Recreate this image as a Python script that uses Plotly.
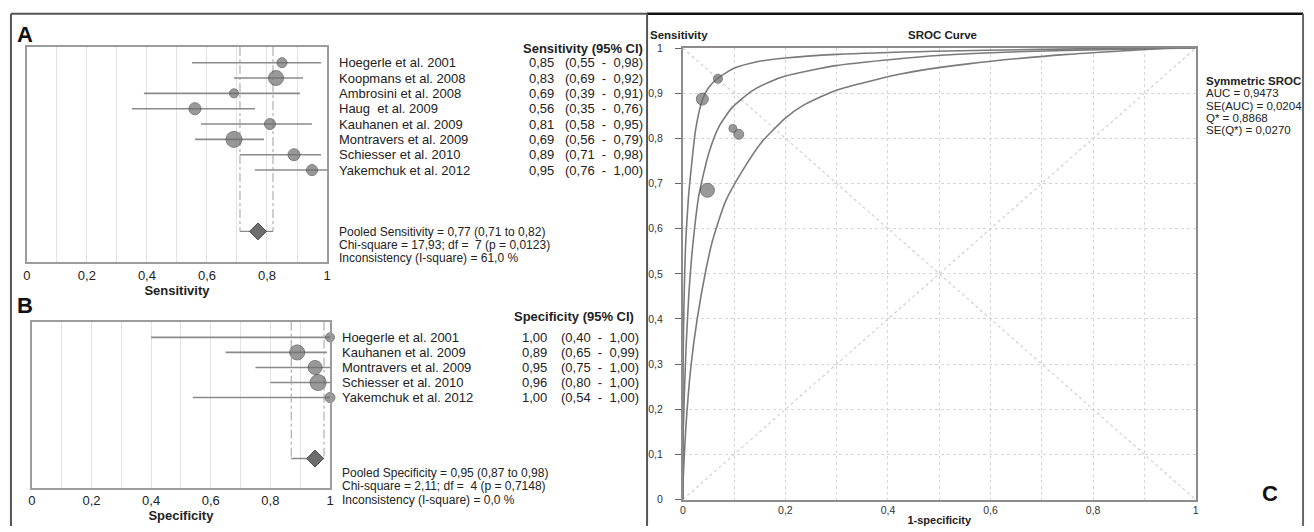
import plotly.graph_objects as go

W, H = 1314, 532
FONT = "Liberation Sans, Arial, sans-serif"
TXT = "#222222"

# ---------------- Panel A : sensitivity forest ----------------
sens_studies = ["Hoegerle et al. 2001", "Koopmans et al. 2008", "Ambrosini et al. 2008",
                "Haug  et al. 2009", "Kauhanen et al. 2009", "Montravers et al. 2009",
                "Schiesser et al. 2010", "Yakemchuk et al. 2012"]
sens = [0.85, 0.83, 0.69, 0.56, 0.81, 0.69, 0.89, 0.95]
sens_lo = [0.55, 0.69, 0.39, 0.35, 0.58, 0.56, 0.71, 0.76]
sens_hi = [0.98, 0.92, 0.91, 0.76, 0.95, 0.79, 0.98, 1.00]
sens_size = [10, 15, 9, 12, 11, 16, 12, 11]
pooled_sens = [0.77, 0.71, 0.82]
sens_stats = ["Pooled Sensitivity = 0,77 (0,71 to 0,82)",
              "Chi-square = 17,93; df =  7 (p = 0,0123)",
              "Inconsistency (I-square) = 61,0 %"]

# ---------------- Panel B : specificity forest ----------------
spec_studies = ["Hoegerle et al. 2001", "Kauhanen et al. 2009", "Montravers et al. 2009",
                "Schiesser et al. 2010", "Yakemchuk et al. 2012"]
spec = [1.00, 0.89, 0.95, 0.96, 1.00]
spec_lo = [0.40, 0.65, 0.75, 0.80, 0.54]
spec_hi = [1.00, 0.99, 1.00, 1.00, 1.00]
spec_size = [9, 15, 14, 16, 10]
pooled_spec = [0.95, 0.87, 0.98]
spec_stats = ["Pooled Specificity = 0,95 (0,87 to 0,98)",
              "Chi-square = 2,11; df =  4 (p = 0,7148)",
              "Inconsistency (I-square) = 0,0 %"]

forest_ticks = [0, 0.2, 0.4, 0.6, 0.8, 1]

# ---------------- Panel C : SROC ----------------
sroc_fpr = [0.0685, 0.038, 0.0975, 0.109, 0.048]
sroc_tpr = [0.932, 0.887, 0.822, 0.809, 0.685]
sroc_size = [9, 12, 8, 10, 14]

upper_x = [0, 0.0005, 0.002, 0.004, 0.006, 0.011, 0.016, 0.025, 0.038, 0.05, 0.068,
           0.1, 0.147, 0.2, 0.3, 0.49, 0.7, 0.85, 1]
upper_y = [0, 0.30, 0.42, 0.52, 0.58, 0.67, 0.73, 0.82, 0.885, 0.912, 0.933,
           0.955, 0.970, 0.978, 0.986, 0.993, 0.997, 0.999, 1]
mid_x = [0, 0.001, 0.006, 0.012, 0.02, 0.031, 0.05, 0.07, 0.096, 0.135, 0.169,
         0.2, 0.298, 0.49, 0.685, 0.944, 1]
mid_y = [0, 0.16, 0.33, 0.46, 0.57, 0.672, 0.765, 0.825, 0.868, 0.905, 0.925,
         0.938, 0.961, 0.983, 0.993, 0.999, 1]
low_x = [0, 0.001, 0.006, 0.0155, 0.028, 0.045, 0.058, 0.083, 0.116, 0.154, 0.2,
         0.233, 0.298, 0.427, 0.556, 0.75, 0.879, 0.95]
low_y = [0, 0.054, 0.162, 0.292, 0.40, 0.509, 0.574, 0.66, 0.728, 0.792, 0.845,
         0.872, 0.906, 0.943, 0.965, 0.986, 0.995, 1.0]
diag_x = [0, 1]
diag_y = [0, 1]
anti_y = [1, 0]
sroc_stats = ["<b>Symmetric SROC</b>", "AUC = 0,9473", "SE(AUC) = 0,0204",
              "Q* = 0,8868", "SE(Q*) = 0,0270"]
c_xticks = [0, 0.2, 0.4, 0.6, 0.8, 1]
c_yticks = [0, 0.1, 0.2, 0.3, 0.4, 0.5, 0.6, 0.7, 0.8, 0.9, 1]


def px(x):
    return x / W


def py(y):
    return 1 - y / H


def fmt(v):
    return f"{v:.2f}".replace(".", ",")


SP = "\u00a0\u00a0"


def ci_text(lo, hi):
    return f"({fmt(lo)}{SP}-{SP}{fmt(hi)})"


MK = "#6e6e6e"
MKL = "#4a4a4a"
CI = "#8a8a8a"

fig = go.Figure()

A_top, A_bot = -1.02, 13.0
B_top, B_bot = -1.04, 10.0
pooled_row = {"x": 11.0, "x2": 8.05}


def forest(vals, lo, hi, sizes, pooled, xa, ya, top):
    n = len(vals)
    rows = list(range(n))
    prow = pooled_row[xa]
    seg_x, seg_y = [], []
    for i in rows:
        seg_x += [lo[i], hi[i], None]
        seg_y += [i, i, None]
    fig.add_trace(go.Scatter(x=seg_x, y=seg_y, mode="lines", xaxis=xa, yaxis=ya,
                             line=dict(color=CI, width=1.6), hoverinfo="skip",
                             showlegend=False, cliponaxis=False))
    fig.add_trace(go.Scatter(x=[pooled[1], pooled[1], None, pooled[2], pooled[2]],
                             y=[top, prow, None, top, prow], mode="lines",
                             xaxis=xa, yaxis=ya, showlegend=False, hoverinfo="skip",
                             line=dict(color="#a0a0a0", width=1, dash="dashdot")))
    fig.add_trace(go.Scatter(x=[pooled[1], pooled[2]], y=[prow, prow], mode="lines",
                             xaxis=xa, yaxis=ya, showlegend=False, hoverinfo="skip",
                             line=dict(color=CI, width=1.4)))
    fig.add_trace(go.Scatter(x=vals, y=rows, mode="markers", xaxis=xa, yaxis=ya,
                             marker=dict(size=sizes, color=MK, line=dict(color=MKL, width=1)),
                             showlegend=False, cliponaxis=False))
    fig.add_trace(go.Scatter(x=[pooled[0]], y=[prow], mode="markers", xaxis=xa, yaxis=ya,
                             marker=dict(size=13, symbol="diamond", color=MK,
                                         line=dict(color=MKL, width=1)),
                             showlegend=False))


forest(sens, sens_lo, sens_hi, sens_size, pooled_sens, "x", "y", A_top)
forest(spec, spec_lo, spec_hi, spec_size, pooled_spec, "x2", "y2", B_top)

# ---- SROC ----
fig.add_trace(go.Scatter(x=diag_x, y=diag_y, mode="lines", xaxis="x3", yaxis="y3",
                         line=dict(color="#d0d0d0", width=1.2, dash="dot"),
                         showlegend=False, hoverinfo="skip"))
fig.add_trace(go.Scatter(x=diag_x, y=anti_y, mode="lines", xaxis="x3", yaxis="y3",
                         line=dict(color="#d0d0d0", width=1.2, dash="dot"),
                         showlegend=False, hoverinfo="skip"))
for cx, cy in [(upper_x, upper_y), (mid_x, mid_y), (low_x, low_y)]:
    fig.add_trace(go.Scatter(x=cx, y=cy, mode="lines", xaxis="x3", yaxis="y3",
                             line=dict(color="#7a7a7a", width=1.6, shape="spline", smoothing=0.6),
                             showlegend=False, hoverinfo="skip"))
fig.add_trace(go.Scatter(x=sroc_fpr, y=sroc_tpr, mode="markers", xaxis="x3", yaxis="y3",
                         marker=dict(size=sroc_size, color=MK, line=dict(color=MKL, width=1)),
                         showlegend=False))

tickfont = dict(family=FONT, size=13, color=TXT)
forest_x = dict(range=[0, 1], tickvals=forest_ticks, showgrid=True, gridcolor="#e3e3e3",
                gridwidth=1, minor=dict(dtick=0.1, showgrid=True, gridcolor="#e3e3e3"),
                zeroline=False, showline=True, mirror=True, linecolor="#9c9c9c", linewidth=2,
                ticks="", tickfont=tickfont, fixedrange=True)
forest_y = dict(showgrid=False, zeroline=False, showline=True, mirror=True,
                linecolor="#9c9c9c", linewidth=2, showticklabels=False, ticks="",
                fixedrange=True)

fig.update_layout(
    width=W, height=H, margin=dict(l=0, r=0, t=0, b=0),
    paper_bgcolor="white", plot_bgcolor="white", separators=",.",
    showlegend=False,
    xaxis=dict(forest_x, domain=[px(23), px(325)], anchor="y",
               title=dict(text="<b>Sensitivity</b>", font=dict(family=FONT, size=13, color=TXT), standoff=2)),
    yaxis=dict(forest_y, domain=[py(262), py(42)], range=[A_bot, A_top], anchor="x"),
    xaxis2=dict(forest_x, domain=[px(28), px(328)], anchor="y2",
                title=dict(text="<b>Specificity</b>", font=dict(family=FONT, size=13, color=TXT), standoff=2)),
    yaxis2=dict(forest_y, domain=[py(493), py(323)], range=[B_bot, B_top], anchor="x2"),
    xaxis3=dict(domain=[px(683), px(1199)], anchor="y3", range=[0, 1], tickvals=c_xticks,
                showgrid=True, gridcolor="#d6d6d6", griddash="dot", gridwidth=1,
                minor=dict(dtick=0.1, showgrid=True, gridcolor="#d6d6d6", griddash="dot"),
                zeroline=False, showline=True, mirror=True, linecolor="#8c8c8c", linewidth=2,
                ticks="", tickfont=dict(family=FONT, size=10.5, color="#333"), fixedrange=True,
                title=dict(text="<b>1-specificity</b>", font=dict(family=FONT, size=11, color=TXT), standoff=1)),
    yaxis3=dict(domain=[py(505), py(43)], anchor="x3", range=[0, 1], tickvals=c_yticks,
                showgrid=True, gridcolor="#d6d6d6", griddash="dot", gridwidth=1,
                zeroline=False, showline=True, mirror=True, linecolor="#8c8c8c", linewidth=2,
                ticks="outside", ticklen=6, tickcolor="#666", ticklabelstandoff=10,
                tickfont=dict(family=FONT, size=10.5, color="#333"), fixedrange=True),
)

ann = []
ann.append(dict(text="<b>A</b>", x=px(11), y=py(29), xanchor="left", yanchor="middle",
                font=dict(family=FONT, size=22, color="#111")))
ann.append(dict(text="<b>B</b>", x=px(11), y=py(306), xanchor="left", yanchor="middle",
                font=dict(family=FONT, size=22, color="#111")))
ann.append(dict(text="<b>C</b>", x=px(1264), y=py(499), xanchor="left", yanchor="middle",
                font=dict(family=FONT, size=22, color="#111")))

f_txt = dict(family=FONT, size=13, color=TXT)
f_hdr = dict(family=FONT, size=13, color=TXT)
f_stat = dict(family=FONT, size=12, color=TXT)

ann.append(dict(text="<b>Sensitivity (95% CI)</b>", x=px(645), y=py(43), xanchor="right",
                yanchor="middle", font=f_hdr))
for i, name in enumerate(sens_studies):
    ann.append(dict(text=name, x=px(335), y=i, yref="y", xanchor="left", yanchor="middle", font=f_txt))
    ann.append(dict(text=fmt(sens[i]), x=px(555), y=i, yref="y", xanchor="right", yanchor="middle", font=f_txt))
    ann.append(dict(text=ci_text(sens_lo[i], sens_hi[i]), x=px(645), y=i, yref="y",
                    xanchor="right", yanchor="middle", font=f_txt))
for j, s in enumerate(sens_stats):
    ann.append(dict(text=s, x=px(335), y=py(231 + 13.5 * j), xanchor="left", yanchor="middle", font=f_stat))

ann.append(dict(text="<b>Specificity (95% CI)</b>", x=px(636), y=py(318), xanchor="right",
                yanchor="middle", font=f_hdr))
for i, name in enumerate(spec_studies):
    ann.append(dict(text=name, x=px(338), y=i, yref="y2", xanchor="left", yanchor="middle", font=f_txt))
    ann.append(dict(text=fmt(spec[i]), x=px(548), y=i, yref="y2", xanchor="right", yanchor="middle", font=f_txt))
    ann.append(dict(text=ci_text(spec_lo[i], spec_hi[i]), x=px(641), y=i, yref="y2",
                    xanchor="right", yanchor="middle", font=f_txt))
for j, s in enumerate(spec_stats):
    ann.append(dict(text=s, x=px(338), y=py(478 + 13.5 * j), xanchor="left", yanchor="middle", font=f_stat))

ann.append(dict(text="<b>Sensitivity</b>", x=px(648), y=py(30), xanchor="left", yanchor="middle",
                font=dict(family=FONT, size=11.5, color=TXT)))
ann.append(dict(text="<b>SROC Curve</b>", x=px(944), y=py(30), xanchor="center", yanchor="middle",
                font=dict(family=FONT, size=11.5, color=TXT)))
for j, s in enumerate(sroc_stats):
    ann.append(dict(text=s, x=px(1207), y=py(77 + 12.5 * j), xanchor="left", yanchor="middle",
                    font=dict(family=FONT, size=11.5, color=TXT)))

for a in ann:
    a.setdefault("xref", "paper")
    a.setdefault("yref", "paper")
    a["showarrow"] = False
fig.update_layout(annotations=ann)

shapes = []


def pline(x0, y0, x1, y1, color, width):
    shapes.append(dict(type="line", xref="paper", yref="paper", x0=px(x0), y0=py(y0),
                       x1=px(x1), y1=py(y1), line=dict(color=color, width=width)))


pline(7, 8, 647, 8, "#555555", 2)
pline(647, 8, 1307, 8, "#111111", 2.5)
pline(7, 8, 7, 532, "#555555", 2)
pline(647, 8, 647, 532, "#555555", 2)
pline(1307, 8, 1307, 532, "#666666", 2)
fig.update_layout(shapes=shapes)

fig.write_html("out.html", config={"displayModeBar": False})

# remove the default page margin so the figure sits at the window origin
with open("out.html", "r", encoding="utf-8") as fh:
    html = fh.read()
html = html.replace("<head>", "<head><style>html,body{margin:0;padding:0;overflow:hidden;}</style>", 1)
with open("out.html", "w", encoding="utf-8") as fh:
    fh.write(html)
